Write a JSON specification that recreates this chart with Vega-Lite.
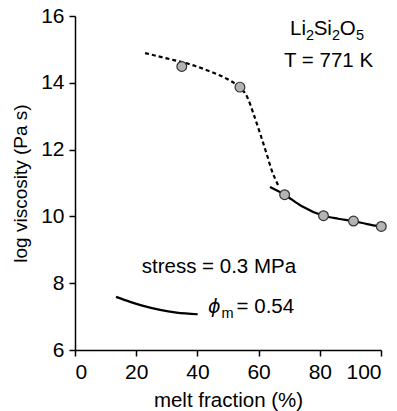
{
  "$schema": "https://vega.github.io/schema/vega-lite/v6.json",
  "width": 306,
  "height": 334,
  "autosize": {"type": "none"},
  "padding": {"left": 75, "top": 16, "right": 16, "bottom": 61},
  "background": "white",
  "config": {
    "font": "Liberation Sans",
    "view": {"stroke": null},
    "axis": {
      "grid": false,
      "domainColor": "black",
      "domainWidth": 1.5,
      "tickColor": "black",
      "tickWidth": 1.5,
      "tickSize": 6,
      "labelFont": "Liberation Sans",
      "labelFontSize": 21,
      "labelColor": "black",
      "titleFont": "Liberation Sans",
      "titleFontWeight": "normal",
      "titleColor": "black"
    }
  },
  "datasets": {
    "points": [
      {"melt": 34.9, "logv": 14.49},
      {"melt": 53.9, "logv": 13.87},
      {"melt": 68.5, "logv": 10.65},
      {"melt": 81.2, "logv": 10.02},
      {"melt": 91.0, "logv": 9.86},
      {"melt": 100.1, "logv": 9.7}
    ],
    "curves": [
      {"curve": "dashed", "melt": 22.9, "logv": 14.89},
      {"curve": "dashed", "melt": 30.0, "logv": 14.73},
      {"curve": "dashed", "melt": 37.0, "logv": 14.57},
      {"curve": "dashed", "melt": 44.7, "logv": 14.32},
      {"curve": "dashed", "melt": 49.6, "logv": 14.12},
      {"curve": "dashed", "melt": 53.0, "logv": 13.92},
      {"curve": "dashed", "melt": 56.3, "logv": 13.57},
      {"curve": "dashed", "melt": 58.3, "logv": 13.08},
      {"curve": "dashed", "melt": 60.5, "logv": 12.48},
      {"curve": "dashed", "melt": 62.6, "logv": 11.88},
      {"curve": "dashed", "melt": 64.3, "logv": 11.38},
      {"curve": "dashed", "melt": 66.4, "logv": 10.93},
      {"curve": "upper", "melt": 63.7, "logv": 10.88},
      {"curve": "upper", "melt": 68.5, "logv": 10.65},
      {"curve": "upper", "melt": 74.0, "logv": 10.31},
      {"curve": "upper", "melt": 81.2, "logv": 10.02},
      {"curve": "upper", "melt": 86.0, "logv": 9.93},
      {"curve": "upper", "melt": 91.0, "logv": 9.86},
      {"curve": "upper", "melt": 95.5, "logv": 9.77},
      {"curve": "upper", "melt": 100.1, "logv": 9.69},
      {"curve": "lower", "melt": 13.4, "logv": 7.59},
      {"curve": "lower", "melt": 18.0, "logv": 7.44},
      {"curve": "lower", "melt": 22.3, "logv": 7.32},
      {"curve": "lower", "melt": 27.8, "logv": 7.2},
      {"curve": "lower", "melt": 33.2, "logv": 7.12},
      {"curve": "lower", "melt": 40.1, "logv": 7.07}
    ],
    "mainText": [
      {"melt": 70.3, "logv": 15.42, "text": "Li"},
      {"melt": 78.0, "logv": 15.42, "text": "Si"},
      {"melt": 86.5, "logv": 15.42, "text": "O"},
      {"melt": 68.3, "logv": 14.47, "text": "T = 771 K"},
      {"melt": 21.8, "logv": 8.31, "text": "stress = 0.3 MPa"},
      {"melt": 52.8, "logv": 7.1, "text": "= 0.54"}
    ],
    "subText": [
      {"melt": 75.5, "logv": 15.27, "text": "2"},
      {"melt": 84.0, "logv": 15.27, "text": "2"},
      {"melt": 91.8, "logv": 15.27, "text": "5"},
      {"melt": 47.9, "logv": 6.95, "text": "m"}
    ],
    "italic": [
      {"melt": 43.5, "logv": 7.1, "text": "ϕ"}
    ]
  },
  "encoding": {
    "x": {
      "field": "melt",
      "type": "quantitative",
      "scale": {"domain": [0, 100], "nice": false},
      "axis": {"values": [0, 20, 40, 60, 80, 100], "title": "melt fraction (%)", "titleFontSize": 20.5, "labelPadding": 5, "titlePadding": 8}
    },
    "y": {
      "field": "logv",
      "type": "quantitative",
      "scale": {"domain": [6, 16], "nice": false, "zero": false},
      "axis": {"values": [6, 8, 10, 12, 14, 16], "title": "log viscosity (Pa s)", "titleFontSize": 19, "labelPadding": 5, "titlePadding": 10}
    }
  },
  "layer": [
    {
      "data": {"name": "curves"},
      "transform": [{"filter": "datum.curve === 'dashed'"}],
      "mark": {"type": "line", "color": "black", "strokeWidth": 2.2, "strokeDash": [4, 3], "interpolate": "monotone"}
    },
    {
      "data": {"name": "curves"},
      "transform": [{"filter": "datum.curve !== 'dashed'"}],
      "mark": {"type": "line", "color": "black", "strokeWidth": 2.2, "interpolate": "monotone"},
      "encoding": {"detail": {"field": "curve", "type": "nominal"}}
    },
    {
      "data": {"name": "points"},
      "mark": {"type": "circle", "size": 95, "fill": "#b4b4b4", "stroke": "#333333", "strokeWidth": 1.2, "opacity": 1}
    },
    {
      "data": {"name": "mainText"},
      "mark": {"type": "text", "fontSize": 20.5, "baseline": "alphabetic", "align": "left", "color": "black", "font": "Liberation Sans"},
      "encoding": {"text": {"field": "text"}}
    },
    {
      "data": {"name": "subText"},
      "mark": {"type": "text", "fontSize": 14.5, "baseline": "alphabetic", "align": "left", "color": "black", "font": "Liberation Sans"},
      "encoding": {"text": {"field": "text"}}
    },
    {
      "data": {"name": "italic"},
      "mark": {"type": "text", "fontSize": 19, "baseline": "alphabetic", "align": "left", "fontStyle": "italic", "color": "black", "font": "DejaVu Sans"},
      "encoding": {"text": {"field": "text"}}
    }
  ]
}
